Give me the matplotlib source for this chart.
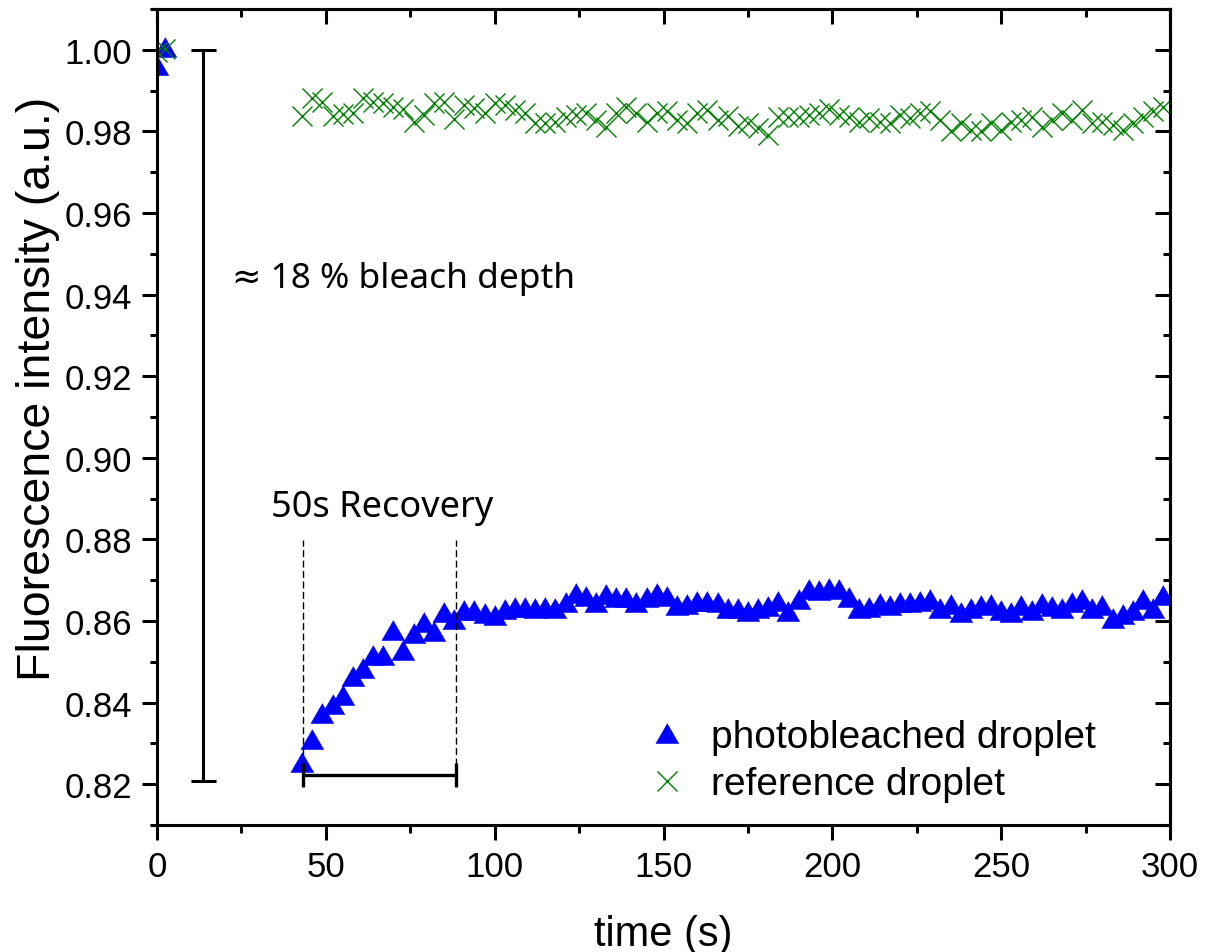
import matplotlib
matplotlib.use("Agg")
import matplotlib.pyplot as plt
from matplotlib.ticker import MultipleLocator, FormatStrFormatter

# ---------------- data ----------------
t_pre = [0.0, 2.5]
bleach_pre = [0.9963, 1.0008]
ref_pre = [0.9995, 1.0003]

t_rec = [43, 46, 49, 52, 55, 58, 61, 64, 67, 70, 73, 76, 79, 82, 85, 88,
         91, 94, 97, 100, 103, 106, 109, 112, 115, 118, 121, 124, 127, 130,
         133, 136, 139, 142, 145, 148, 151, 154, 157, 160, 163, 166, 169, 172,
         175, 178, 181, 184, 187, 190, 193, 196, 199, 202, 205, 208, 211, 214,
         217, 220, 223, 226, 229, 232, 235, 238, 241, 244, 247, 250, 253, 256,
         259, 262, 265, 268, 271, 274, 277, 280, 283, 286, 289, 292, 295, 298]

bleach_rec = [0.8255, 0.8312, 0.8375, 0.8396, 0.8418, 0.8465, 0.8485, 0.8516,
              0.8516, 0.8578, 0.8529, 0.8570, 0.8598, 0.8575, 0.8623, 0.8606,
              0.8627, 0.8627, 0.8619, 0.8615, 0.8629, 0.8635, 0.8635, 0.8632,
              0.8635, 0.8631, 0.8646, 0.8668, 0.8661, 0.8647, 0.8666, 0.8659,
              0.8658, 0.8647, 0.8658, 0.8669, 0.8661, 0.8639, 0.8641, 0.8649,
              0.8649, 0.8647, 0.8632, 0.8632, 0.8624, 0.8632, 0.8637, 0.8649,
              0.8624, 0.8655, 0.8678, 0.8676, 0.8680, 0.8678, 0.8659, 0.8632,
              0.8635, 0.8643, 0.8639, 0.8647, 0.8646, 0.8649, 0.8654, 0.8631,
              0.8641, 0.8621, 0.8631, 0.8639, 0.8641, 0.8627, 0.8621, 0.8639,
              0.8627, 0.8643, 0.8637, 0.8631, 0.8646, 0.8655, 0.8631, 0.8639,
              0.8608, 0.8616, 0.8627, 0.8655, 0.8631, 0.8664]

ref_rec = [0.9838, 0.9882, 0.9873, 0.9838, 0.9842, 0.9845, 0.9882, 0.9873,
           0.9869, 0.9861, 0.9855, 0.9824, 0.9841, 0.9869, 0.9873, 0.9830,
           0.9865, 0.9857, 0.9845, 0.9869, 0.9865, 0.9853, 0.9845, 0.9820,
           0.9820, 0.9824, 0.9836, 0.9841, 0.9845, 0.9828, 0.9812, 0.9845,
           0.9859, 0.9845, 0.9824, 0.9845, 0.9849, 0.9828, 0.9820, 0.9845,
           0.9853, 0.9828, 0.9838, 0.9814, 0.9820, 0.9808, 0.9792, 0.9836,
           0.9836, 0.9836, 0.9841, 0.9845, 0.9855, 0.9841, 0.9836, 0.9824,
           0.9832, 0.9824, 0.9820, 0.9841, 0.9832, 0.9845, 0.9849, 0.9828,
           0.9800, 0.9820, 0.9804, 0.9800, 0.9820, 0.9804, 0.9824, 0.9828,
           0.9836, 0.9812, 0.9828, 0.9845, 0.9828, 0.9853, 0.9820, 0.9824,
           0.9816, 0.9804, 0.9820, 0.9836, 0.9849, 0.9861]

x_ticks = [0, 50, 100, 150, 200, 250, 300]
y_ticks = [0.82, 0.84, 0.86, 0.88, 0.90, 0.92, 0.94, 0.96, 0.98, 1.00]

# annotation anchors (data units)
depth_x = 13.6
depth_top, depth_bottom = 1.000, 0.8208
rec_start, rec_end = 43.1, 88.5
rec_bar_y = 0.8222
dash_top, dash_bottom = 0.8798, 0.8247

t_all = t_pre + t_rec
bleach_all = bleach_pre + bleach_rec
ref_all = ref_pre + ref_rec

# ---------------- figure ----------------
W, H = 1208, 953
fig = plt.figure(figsize=(W / 100, H / 100), dpi=100)
ax = fig.add_axes([157 / W, 1 - 826 / H, (1170 - 157) / W, 816 / H])

tri = [(0, 0.866), (-1, -0.866), (1, -0.866)]
ax.plot(t_all, bleach_all, ls="none", marker=tri, ms=16.6, color="#0000ff",
        mec="#0000ff", mew=0.4, label="photobleached droplet")
ax.plot(t_all, ref_all, ls="none", marker="x", ms=14.4, color="#008000",
        mew=1.0, label="reference droplet")

# bleach depth bar
ax.errorbar([depth_x], [(depth_top + depth_bottom) / 2],
            yerr=[(depth_top - depth_bottom) / 2], fmt="none", ecolor="k",
            elinewidth=2.2, capsize=9, capthick=2.2)
# recovery bracket
ax.errorbar([(rec_start + rec_end) / 2], [rec_bar_y],
            xerr=[(rec_end - rec_start) / 2], fmt="none", ecolor="k",
            elinewidth=2.4, capsize=8.3, capthick=2.4)
for xv in (rec_start, rec_end):
    ax.plot([xv, xv], [dash_bottom, dash_top], color="k", lw=1.0,
            ls=(0, (5, 2.5)))

ann_font = ["Noto Sans", "DejaVu Sans"]
ax.text(22.2, 0.9441, "\u2248 18 % bleach depth", fontsize=25.4,
        family=ann_font, ha="left", va="center")
ax.text(66.6, 0.8879, "50s Recovery", fontsize=26, family=ann_font,
        ha="center", va="center")

ax.set_xlim(0, 300)
ax.set_ylim(0.81, 1.01)

lab_font = "Liberation Sans"
ax.xaxis.set_major_locator(MultipleLocator(50))
ax.xaxis.set_minor_locator(MultipleLocator(25))
ax.yaxis.set_major_locator(MultipleLocator(0.02))
ax.yaxis.set_minor_locator(MultipleLocator(0.01))
ax.set_xticks(x_ticks)
ax.set_yticks(y_ticks)
ax.yaxis.set_major_formatter(FormatStrFormatter("%.2f"))
ax.tick_params(which="major", direction="out", length=10.8, width=2.2,
               labelsize=25, pad=7)
ax.tick_params(which="minor", direction="out", length=5.4, width=2.2)
for lbl in ax.get_xticklabels() + ax.get_yticklabels():
    lbl.set_fontfamily(lab_font)
for sp in ax.spines.values():
    sp.set_linewidth(2.2)

secx = ax.secondary_xaxis("top")
secx.set_xticks(x_ticks)
secx.xaxis.set_minor_locator(MultipleLocator(25))
secx.tick_params(which="major", direction="in", length=10.8, width=2.2,
                 labeltop=False)
secx.tick_params(which="minor", direction="in", length=5.4, width=2.2)
secx.spines["top"].set_linewidth(2.2)

secy = ax.secondary_yaxis("right")
secy.set_yticks(y_ticks)
secy.yaxis.set_minor_locator(MultipleLocator(0.01))
secy.tick_params(which="major", direction="in", length=10.8, width=2.2,
                 labelright=False)
secy.tick_params(which="minor", direction="in", length=5.4, width=2.2)
secy.spines["right"].set_linewidth(2.2)

ax.set_xlabel("time (s)", fontsize=30, family=lab_font)
ax.set_ylabel("Fluorescence intensity (a.u.)", fontsize=33.5, family=lab_font)
ax.xaxis.label.set_va("center")
ax.yaxis.label.set_va("center")
ax.xaxis.set_label_coords(0.5, (826 - 935) / 816)
ax.yaxis.set_label_coords(-(157 - 38) / 1013, (826 - 388.5) / 816)

leg = ax.legend(loc="center left", bbox_to_anchor=(644.7 / W, 1 - 761.5 / H),
                bbox_transform=fig.transFigure, frameon=False,
                prop={"family": lab_font, "size": 28}, handlelength=1.15,
                handletextpad=0.55, borderpad=0, borderaxespad=0,
                labelspacing=0.3, numpoints=1)

fig.savefig("out.png", dpi=100)
